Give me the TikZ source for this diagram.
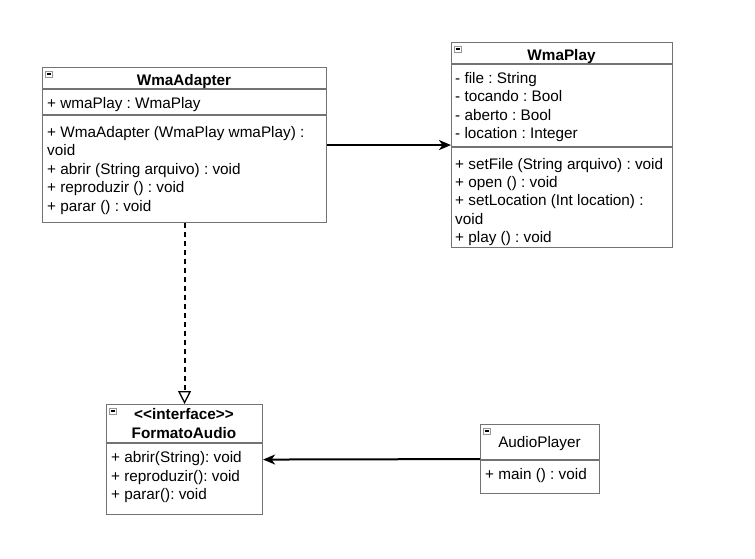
\documentclass[tikz,border=0pt]{standalone}
\usepackage{fontspec}
\setmainfont{Liberation Sans}
\usetikzlibrary{arrows.meta}
\begin{document}
\frenchspacing
\begin{tikzpicture}[x=1pt,y=-1pt]

	% Styles
	\tikzset{
		classbox/.style={
			rectangle, draw=boxgray, line width=1.1pt,
			anchor=north west, inner sep=0pt,
		},
		sep/.style={
			draw=boxgray, line width=1.1pt,
		},
		member/.style={
			anchor=base west, inner sep=0pt, font=\fontsize{15.3}{18}\selectfont,
		},
		title/.style={
			anchor=base, inner sep=0pt, font=\fontsize{15.3}{18}\selectfont\bfseries,
		},
		arrow/.style={
			line width=2pt, -{Stealth[length=12pt,width=10pt,inset=3.5pt]},
		},
		realize/.style={
			line width=2pt, dash pattern=on 5pt off 4pt,
			-{Triangle[open,length=13pt,width=13pt,line width=1.3pt]},
		}
	}

	% Colors
	\definecolor{boxgray}{RGB}{115,115,115}
	\definecolor{icongray}{RGB}{150,150,150}

	\useasboundingbox (0,0) rectangle (755,558);

	% WmaAdapter class (left)
	\node[classbox, minimum width=284pt, minimum height=155pt] (adapter) at (42,67) {};
	\draw[sep] (42,89) -- (326,89);
	\draw[sep] (42,115) -- (326,115);
	\draw[icongray, fill=white] (45,71) rectangle (52,77);
	\draw[black, line width=1.5pt] (46.5,74) -- (50.5,74);
	\node[title] (adaptername) at (184,85.5) {WmaAdapter};
	\node[member] (adapterattr) at (47,108.5) {+ wmaPlay : WmaPlay};
	\node[member] (adapterm1) at (47,137) {+ WmaAdapter (WmaPlay wmaPlay) :};
	\node[member] (adapterm1b) at (47,155.5) {void};
	\node[member] (adapterm2) at (47,174) {+ abrir (String arquivo) : void};
	\node[member] (adapterm3) at (47,192.5) {+ reproduzir () : void};
	\node[member] (adapterm4) at (47,211) {+ parar () : void};

	% WmaPlay class (right)
	\node[classbox, minimum width=221pt, minimum height=205pt] (wmaplay) at (451,42) {};
	\draw[sep] (451,64) -- (672,64);
	\draw[sep] (451,147) -- (672,147);
	\draw[icongray, fill=white] (454,46) rectangle (461,52);
	\draw[black, line width=1.5pt] (455.5,49) -- (459.5,49);
	\node[title] (wmaplayname) at (561.5,60.5) {WmaPlay};
	\node[member] (file) at (455,83) {- file : String};
	\node[member] (tocando) at (455,101.5) {- tocando : Bool};
	\node[member] (aberto) at (455,120) {- aberto : Bool};
	\node[member] (location) at (455,138.5) {- location : Integer};
	\node[member] (setfile) at (455,169) {+ setFile (String arquivo) : void};
	\node[member] (open) at (455,187.5) {+ open () : void};
	\node[member] (setloc) at (455,205.5) {+ setLocation (Int location) :};
	\node[member] (setlocb) at (455,224) {void};
	\node[member] (play) at (455,242.5) {+ play () : void};

	% FormatoAudio interface (bottom left)
	\node[classbox, minimum width=156pt, minimum height=110pt] (formato) at (106,404) {};
	\draw[sep] (106,443) -- (262,443);
	\draw[icongray, fill=white] (109,408) rectangle (116,414);
	\draw[black, line width=1.5pt] (110.5,411) -- (114.5,411);
	\node[title] (stereotype) at (184,419) {<{}<interface>{}>};
	\node[title] (formatoname) at (184,438) {FormatoAudio};
	\node[member] (abrir) at (111,462.5) {+ abrir(String): void};
	\node[member] (reproduzir) at (111,481) {+ reproduzir(): void};
	\node[member] (parar) at (111,499.5) {+ parar(): void};

	% AudioPlayer class (bottom right)
	\node[classbox, minimum width=119pt, minimum height=69pt] (player) at (480,424) {};
	\draw[sep] (480,460) -- (599,460);
	\draw[icongray, fill=white] (483,428) rectangle (490,434);
	\draw[black, line width=1.5pt] (484.5,431) -- (488.5,431);
	\node[title, font=\fontsize{15.3}{18}\selectfont] (playername) at (539.5,447.5) {AudioPlayer};
	\node[member] (main) at (485,479.5) {+ main () : void};

	% Connectors
	\draw[arrow] (adapter.east) -- (wmaplay.west);
	\draw[realize] (adapter.south) -- (formato.north);
	\draw[arrow] (player.west) -- (formato.east);

\end{tikzpicture}
\end{document}
